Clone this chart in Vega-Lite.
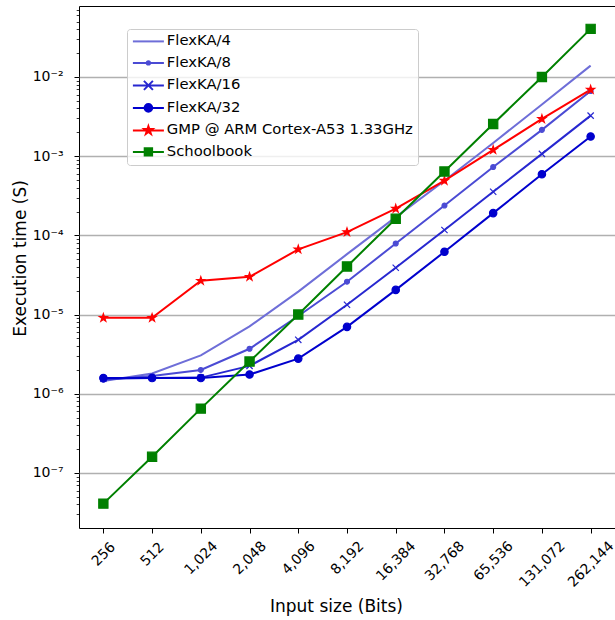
{
  "$schema": "https://vega.github.io/schema/vega-lite/v6.json",
  "autosize": {"type": "none"},
  "padding": {"left": 79, "top": 6, "right": 0, "bottom": 92},
  "width": 536,
  "height": 522,
  "config": {
    "font": "DejaVu Sans",
    "view": {"stroke": "#000000", "strokeWidth": 1},
    "axis": {"domain": false, "labelColor": "#000000", "titleColor": "#000000", "tickColor": "#000000", "labelFont": "DejaVu Sans", "titleFont": "DejaVu Sans", "titleFontWeight": "normal", "titleFontSize": 17, "labelFontSize": 14}
  },
  "data": {
    "values": [
      {"series": "FlexKA/4", "bits": 256, "t": 1.45e-6},
      {"series": "FlexKA/4", "bits": 512, "t": 1.8e-6},
      {"series": "FlexKA/4", "bits": 1024, "t": 3.05e-6},
      {"series": "FlexKA/4", "bits": 2048, "t": 7.1e-6},
      {"series": "FlexKA/4", "bits": 4096, "t": 1.95e-5},
      {"series": "FlexKA/4", "bits": 8192, "t": 5.8e-5},
      {"series": "FlexKA/4", "bits": 16384, "t": 1.7e-4},
      {"series": "FlexKA/4", "bits": 32768, "t": 4.9e-4},
      {"series": "FlexKA/4", "bits": 65536, "t": 1.47e-3},
      {"series": "FlexKA/4", "bits": 131072, "t": 4.5e-3},
      {"series": "FlexKA/4", "bits": 262144, "t": 1.39e-2},
      {"series": "FlexKA/8", "bits": 256, "t": 1.5e-6},
      {"series": "FlexKA/8", "bits": 512, "t": 1.68e-6},
      {"series": "FlexKA/8", "bits": 1024, "t": 2.0e-6},
      {"series": "FlexKA/8", "bits": 2048, "t": 3.7e-6},
      {"series": "FlexKA/8", "bits": 4096, "t": 9.6e-6},
      {"series": "FlexKA/8", "bits": 8192, "t": 2.6e-5},
      {"series": "FlexKA/8", "bits": 16384, "t": 7.9e-5},
      {"series": "FlexKA/8", "bits": 32768, "t": 2.38e-4},
      {"series": "FlexKA/8", "bits": 65536, "t": 7.3e-4},
      {"series": "FlexKA/8", "bits": 131072, "t": 2.15e-3},
      {"series": "FlexKA/8", "bits": 262144, "t": 6.65e-3},
      {"series": "FlexKA/16", "bits": 256, "t": 1.55e-6},
      {"series": "FlexKA/16", "bits": 512, "t": 1.58e-6},
      {"series": "FlexKA/16", "bits": 1024, "t": 1.6e-6},
      {"series": "FlexKA/16", "bits": 2048, "t": 2.25e-6},
      {"series": "FlexKA/16", "bits": 4096, "t": 4.8e-6},
      {"series": "FlexKA/16", "bits": 8192, "t": 1.33e-5},
      {"series": "FlexKA/16", "bits": 16384, "t": 3.9e-5},
      {"series": "FlexKA/16", "bits": 32768, "t": 1.17e-4},
      {"series": "FlexKA/16", "bits": 65536, "t": 3.55e-4},
      {"series": "FlexKA/16", "bits": 131072, "t": 1.07e-3},
      {"series": "FlexKA/16", "bits": 262144, "t": 3.25e-3},
      {"series": "FlexKA/32", "bits": 256, "t": 1.58e-6},
      {"series": "FlexKA/32", "bits": 512, "t": 1.58e-6},
      {"series": "FlexKA/32", "bits": 1024, "t": 1.58e-6},
      {"series": "FlexKA/32", "bits": 2048, "t": 1.75e-6},
      {"series": "FlexKA/32", "bits": 4096, "t": 2.78e-6},
      {"series": "FlexKA/32", "bits": 8192, "t": 7.0e-6},
      {"series": "FlexKA/32", "bits": 16384, "t": 2.05e-5},
      {"series": "FlexKA/32", "bits": 32768, "t": 6.2e-5},
      {"series": "FlexKA/32", "bits": 65536, "t": 1.91e-4},
      {"series": "FlexKA/32", "bits": 131072, "t": 5.9e-4},
      {"series": "FlexKA/32", "bits": 262144, "t": 1.77e-3},
      {"series": "GMP @ ARM Cortex-A53 1.33GHz", "bits": 256, "t": 9.1e-6},
      {"series": "GMP @ ARM Cortex-A53 1.33GHz", "bits": 512, "t": 9.1e-6},
      {"series": "GMP @ ARM Cortex-A53 1.33GHz", "bits": 1024, "t": 2.67e-5},
      {"series": "GMP @ ARM Cortex-A53 1.33GHz", "bits": 2048, "t": 3.0e-5},
      {"series": "GMP @ ARM Cortex-A53 1.33GHz", "bits": 4096, "t": 6.65e-5},
      {"series": "GMP @ ARM Cortex-A53 1.33GHz", "bits": 8192, "t": 1.1e-4},
      {"series": "GMP @ ARM Cortex-A53 1.33GHz", "bits": 16384, "t": 2.17e-4},
      {"series": "GMP @ ARM Cortex-A53 1.33GHz", "bits": 32768, "t": 4.9e-4},
      {"series": "GMP @ ARM Cortex-A53 1.33GHz", "bits": 65536, "t": 1.2e-3},
      {"series": "GMP @ ARM Cortex-A53 1.33GHz", "bits": 131072, "t": 2.95e-3},
      {"series": "GMP @ ARM Cortex-A53 1.33GHz", "bits": 262144, "t": 6.9e-3},
      {"series": "Schoolbook", "bits": 256, "t": 4.1e-8},
      {"series": "Schoolbook", "bits": 512, "t": 1.6e-7},
      {"series": "Schoolbook", "bits": 1024, "t": 6.5e-7},
      {"series": "Schoolbook", "bits": 2048, "t": 2.55e-6},
      {"series": "Schoolbook", "bits": 4096, "t": 1.0e-5},
      {"series": "Schoolbook", "bits": 8192, "t": 4.05e-5},
      {"series": "Schoolbook", "bits": 16384, "t": 1.62e-4},
      {"series": "Schoolbook", "bits": 32768, "t": 6.4e-4},
      {"series": "Schoolbook", "bits": 65536, "t": 2.55e-3},
      {"series": "Schoolbook", "bits": 131072, "t": 1.0e-2},
      {"series": "Schoolbook", "bits": 262144, "t": 4.05e-2}
    ]
  },
  "encoding": {
    "x": {
      "field": "bits",
      "type": "ordinal",
      "scale": {"type": "point", "padding": 0.5},
      "axis": {
        "title": "Input size (Bits)",
        "titleX": 257,
        "titleY": 83,
        "titleBaseline": "alphabetic",
        "titleAlign": "center",
        "tickSize": 5,
        "labelPadding": {"condition": [{"test": "datum.value < 1000", "value": 21}, {"test": "datum.value < 10000", "value": 24.7}, {"test": "datum.value < 100000", "value": 27.9}], "value": 31},
        "labelAngle": -45,
        "labelAlign": "center",
        "labelBaseline": "middle",
        "labelOverlap": false,
        "labelFlush": false,
        "grid": false,
        "labelExpr": "format(datum.value, ',')"
      }
    },
    "y": {
      "field": "t",
      "type": "quantitative",
      "scale": {"type": "log", "domain": [2.02e-8, 0.0787], "nice": false},
      "axis": {
        "title": "Execution time (S)",
        "titleX": -54,
        "titleY": 252,
        "titleAngle": -90,
        "titleBaseline": "alphabetic",
        "titleAlign": "center",
        "values": [3e-8, 4e-8, 5e-8, 6e-8, 7e-8, 8e-8, 9e-8, 1e-7, 2e-7, 3e-7, 4e-7, 5e-7, 6e-7, 7e-7, 8e-7, 9e-7, 1e-6, 2e-6, 3e-6, 4e-6, 5e-6, 6e-6, 7e-6, 8e-6, 9e-6, 1e-5, 2e-5, 3e-5, 4e-5, 5e-5, 6e-5, 7e-5, 8e-5, 9e-5, 1e-4, 2e-4, 3e-4, 4e-4, 5e-4, 6e-4, 7e-4, 8e-4, 9e-4, 1e-3, 2e-3, 3e-3, 4e-3, 5e-3, 6e-3, 7e-3, 8e-3, 9e-3, 1e-2, 2e-2, 3e-2, 4e-2, 5e-2, 6e-2, 7e-2],
        "labelExpr": "abs(log(datum.value)/LN10 - round(log(datum.value)/LN10)) < 0.001 ? '10⁻' + ['⁰','¹','²','³','⁴','⁵','⁶','⁷','⁸','⁹'][-round(log(datum.value)/LN10)] : ''",
        "labelOverlap": false,
        "labelFlush": false,
        "labelBaseline": "middle",
        "labelPadding": 11,
        "tickSize": {"condition": {"test": "abs(log(datum.value)/LN10 - round(log(datum.value)/LN10)) < 0.001", "value": 5}, "value": 2.8},
        "tickWidth": {"condition": {"test": "abs(log(datum.value)/LN10 - round(log(datum.value)/LN10)) < 0.001", "value": 1}, "value": 0.8},
        "grid": true,
        "gridColor": "#b0b0b0",
        "gridWidth": 1.3,
        "gridOpacity": {"condition": {"test": "abs(log(datum.value)/LN10 - round(log(datum.value)/LN10)) < 0.001", "value": 1}, "value": 0}
      }
    }
  },
  "layer": [
    {
      "mark": {"type": "line", "strokeWidth": 2},
      "encoding": {
        "color": {
          "field": "series",
          "type": "nominal",
          "scale": {
            "domain": ["FlexKA/4", "FlexKA/8", "FlexKA/16", "FlexKA/32", "GMP @ ARM Cortex-A53 1.33GHz", "Schoolbook"],
            "range": ["#6e6ed8", "#4b4bd4", "#2727d0", "#0000cd", "#ff0000", "#008000"]
          },
          "legend": {
            "title": null,
            "orient": "none",
            "legendX": 48,
            "legendY": 23,
            "padding": 5,
            "rowPadding": 5.5,
            "labelFontSize": 14.8,
            "labelFont": "DejaVu Sans",
            "labelColor": "#000000",
            "labelLimit": 400,
            "symbolOffset": 9,
            "labelOffset": 11,
            "symbolSize": 100,
            "symbolStrokeWidth": 2,
            "strokeColor": "#cccccc",
            "fillColor": "rgba(255,255,255,0.8)",
            "cornerRadius": 3,
            "encode": {
              "symbols": {
                "update": {
                  "shape": {"signal": "datum.value === 'FlexKA/4' ? 'M-3.1,0H3.1' : datum.value === 'FlexKA/8' ? 'M-3.1,0H3.1M0.32,0A0.32,0.32 0 1,1 -0.32,0A0.32,0.32 0 1,1 0.32,0Z' : datum.value === 'FlexKA/16' ? 'M-3.1,0H3.1M-0.9,-0.9L0.9,0.9M-0.9,0.9L0.9,-0.9' : datum.value === 'FlexKA/32' ? 'M-3.1,0H3.1M0.76,0A0.76,0.76 0 1,1 -0.76,0A0.76,0.76 0 1,1 0.76,0Z' : datum.value === 'Schoolbook' ? 'M-3.1,0H3.1M-0.74,-0.74H0.74V0.74H-0.74Z' : 'M-3.1,0H3.1M0,-0.84L0.1886,-0.2596L0.7989,-0.2596L0.3052,0.0991L0.4938,0.6796L0,0.3209L-0.4938,0.6796L-0.3052,0.0991L-0.7989,-0.2596L-0.1886,-0.2596Z'"},
                  "size": {"value": 100},
                  "fill": {"scale": "color", "field": "value"},
                  "stroke": {"scale": "color", "field": "value"},
                  "strokeWidth": {"value": 2},
                  "opacity": {"value": 1},
                  "fillOpacity": {"value": 1},
                  "strokeOpacity": {"value": 1}
                }
              }
            }
          }
        }
      }
    },
    {
      "transform": [{"filter": "datum.series !== 'FlexKA/4'"}],
      "mark": {"type": "point", "filled": true, "opacity": 1, "strokeWidth": 1.2},
      "encoding": {
        "fill": {
          "field": "series",
          "type": "nominal",
          "scale": {
            "domain": ["FlexKA/8", "FlexKA/16", "FlexKA/32", "GMP @ ARM Cortex-A53 1.33GHz", "Schoolbook"],
            "range": ["#4b4bd4", "#2727d0", "#0000cd", "#ff0000", "#008000"]
          },
          "legend": null
        },
        "stroke": {
          "field": "series",
          "type": "nominal",
          "scale": {
            "domain": ["FlexKA/8", "FlexKA/16", "FlexKA/32", "GMP @ ARM Cortex-A53 1.33GHz", "Schoolbook"],
            "range": ["#4b4bd4", "#2727d0", "#0000cd", "#ff0000", "#008000"]
          },
          "legend": null
        },
        "shape": {
          "field": "series",
          "type": "nominal",
          "scale": {
            "domain": ["FlexKA/8", "FlexKA/16", "FlexKA/32", "GMP @ ARM Cortex-A53 1.33GHz", "Schoolbook"],
            "range": ["circle", "M-1,-1L1,1M-1,1L1,-1", "circle", "M0,-1L0.2245,-0.309L0.9511,-0.309L0.3633,0.118L0.5878,0.809L0,0.382L-0.5878,0.809L-0.3633,0.118L-0.9511,-0.309L-0.2245,-0.309Z", "square"]
          },
          "legend": null
        },
        "size": {
          "field": "series",
          "type": "nominal",
          "scale": {
            "domain": ["FlexKA/8", "FlexKA/16", "FlexKA/32", "GMP @ ARM Cortex-A53 1.33GHz", "Schoolbook"],
            "range": [24, 85, 75, 100, 75]
          },
          "legend": null
        }
      }
    }
  ]
}
